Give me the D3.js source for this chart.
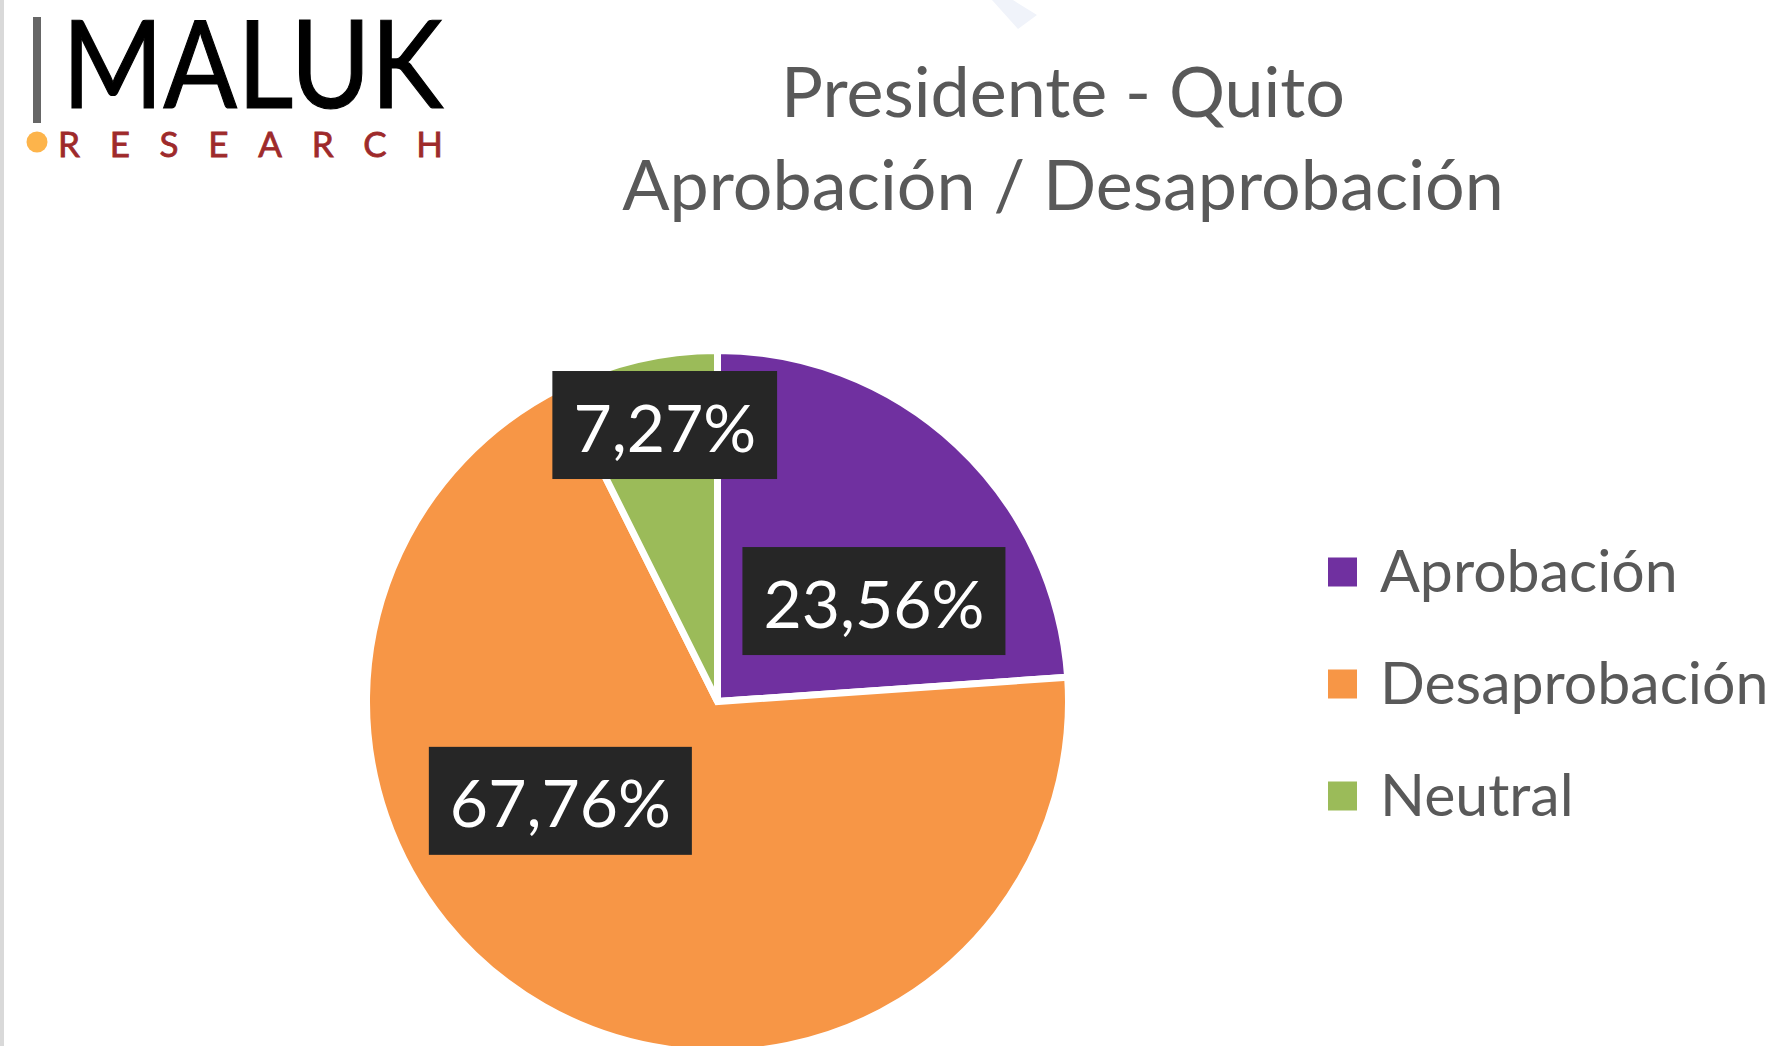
<!DOCTYPE html>
<html>
<head>
<meta charset="utf-8">
<script src="https://cdn.jsdelivr.net/npm/d3@7"></script>
<style>
  body { margin: 0; background: #fff; }
  svg { display: block; }
</style>
</head>
<body>
<div id="chart"></div>
<script>
// data
var categories = ['Aprobación', 'Desaprobación', 'Neutral']
var values = [23.56, 67.76, 7.27]
var labels = ['23,56%', '67,76%', '7,27%']
var colors = ['#7030a0', '#f79646', '#9bbb59']
var titleLines = ['Presidente - Quito', 'Aprobación / Desaprobación']

var width = 1782
var height = 1046
var cx = 717.5
var cy = 701.5
var radius = 351

// where each label box sits: fraction across the slice angle, fraction of radius
var labelSpot = [
  { t: 0.666, r: 0.535 },
  { t: 0.613, r: 0.535 },
  { t: 0.593, r: 0.81 }
]

var svg = d3.select('#chart')
  .append('svg')
  .attr('width', width)
  .attr('height', height)

svg.append('rect')
  .attr('width', width)
  .attr('height', height)
  .attr('fill', '#fff')

// left grey edge + faint mark at the top
svg.append('rect')
  .attr('x', 0)
  .attr('y', 0)
  .attr('width', 4)
  .attr('height', height)
  .attr('fill', '#d9d9d9')

svg.append('polygon')
  .attr('points', '992,0 1013,0 1037,15 1018,29')
  .attr('fill', '#f0f3fa')

// logo
var logo = svg.append('g')
logo.append('rect')
  .attr('x', 33)
  .attr('y', 17)
  .attr('width', 8)
  .attr('height', 106)
  .attr('fill', '#666')
logo.append('text')
  .text('MALUK')
  .attr('x', 62)
  .attr('y', 108)
  .attr('font-family', 'Lato')
  .attr('font-size', 123)
  .attr('textLength', 381)
  .attr('lengthAdjust', 'spacingAndGlyphs')
  .attr('fill', '#000')
  .attr('stroke', '#000')
  .attr('stroke-width', 1.2)
logo.append('circle')
  .attr('cx', 37)
  .attr('cy', 142)
  .attr('r', 10.5)
  .attr('fill', '#fdb44b')
logo.append('text')
  .text('RESEARCH')
  .attr('x', 58)
  .attr('y', 157)
  .attr('font-family', 'Lato')
  .attr('font-size', 35)
  .attr('textLength', 385)
  .attr('lengthAdjust', 'spacing')
  .attr('fill', '#9e2a2b')
  .attr('stroke', '#9e2a2b')
  .attr('stroke-width', 0.8)

// title
svg.selectAll('.title')
  .data(titleLines)
  .enter()
  .append('text')
  .attr('class', 'title')
  .text(d => d)
  .attr('x', 1063)
  .attr('y', (d, i) => 117 + i * 93)
  .attr('text-anchor', 'middle')
  .attr('font-family', 'Lato')
  .attr('font-size', 70)
  .attr('fill', '#595959')

// pie
var pie = d3.pie().sort(null).value(d => d)
var arcs = pie(values)

var arc = d3.arc()
  .innerRadius(0)
  .outerRadius(radius)

var g = svg.append('g')
  .attr('transform', 'translate(' + cx + ',' + cy + ')')

g.selectAll('.slice')
  .data(arcs)
  .enter()
  .append('path')
  .attr('class', 'slice')
  .attr('d', arc)
  .attr('fill', (d, i) => colors[i])
  .attr('stroke', '#fff')
  .attr('stroke-width', 7)

// data labels in dark boxes
var fontSize = 66
var digitH = fontSize * 0.7165
g.selectAll('.label')
  .data(arcs)
  .enter()
  .append('g')
  .attr('class', 'label')
  .each(function(d, i) {
    var spot = labelSpot[i]
    var a = d.startAngle + (d.endAngle - d.startAngle) * spot.t
    var r = (radius - 3.5) * spot.r
    var x = Math.sin(a) * r
    var y = -Math.cos(a) * r
    var lab = d3.select(this)
    var box = lab.append('rect')
    var txt = lab.append('text')
      .text(labels[i])
      .attr('x', x)
      .attr('y', y + digitH / 2 + 3)
      .attr('text-anchor', 'middle')
      .attr('font-family', 'Lato')
      .attr('font-size', fontSize)
      .attr('fill', '#fff')
    var w = txt.node().getComputedTextLength() + 42
    box.attr('x', x - w / 2)
      .attr('y', y - 54)
      .attr('width', w)
      .attr('height', 108)
      .attr('fill', '#262626')
  })

// legend
var legend = svg.selectAll('.legend')
  .data(categories)
  .enter()
  .append('g')
  .attr('class', 'legend')
  .attr('transform', (d, i) => 'translate(1328,' + (572 + i * 112) + ')')

legend.append('rect')
  .attr('x', 0)
  .attr('y', -14.5)
  .attr('width', 29)
  .attr('height', 29)
  .attr('fill', (d, i) => colors[i])

legend.append('text')
  .text(d => d)
  .attr('x', 52)
  .attr('y', 20)
  .attr('font-family', 'Lato')
  .attr('font-size', 59)
  .attr('fill', '#595959')
</script>
</body>
</html>
